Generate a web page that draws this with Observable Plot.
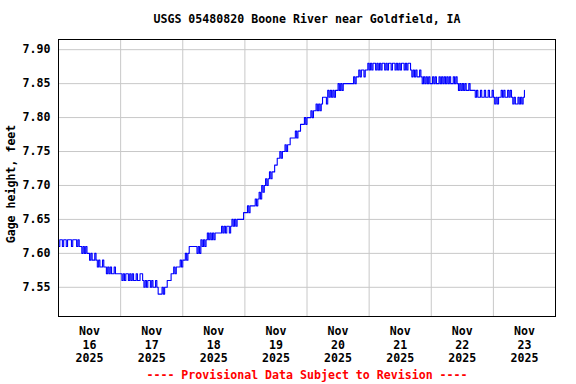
<!DOCTYPE html>
<html><head><meta charset="utf-8">
<script src="https://cdn.jsdelivr.net/npm/d3@7"></script>
<script src="https://cdn.jsdelivr.net/npm/@observablehq/plot@0.6"></script>
<style>
html,body{margin:0;padding:0;background:#fff;}
</style></head><body><div id="chart"></div>
<script>
const title = "USGS 05480820 Boone River near Goldfield, IA";
const yLabel = "Gage height, feet";
const caption = "---- Provisional Data Subject to Revision ----";
const yTicks = [7.55, 7.60, 7.65, 7.70, 7.75, 7.80, 7.85, 7.90];
const dayLabels = ["Nov\n16\n2025", "Nov\n17\n2025", "Nov\n18\n2025", "Nov\n19\n2025",
                   "Nov\n20\n2025", "Nov\n21\n2025", "Nov\n22\n2025", "Nov\n23\n2025"];

// Gage height (feet), half-hourly readings, one array per day starting at 00:00
const nov16 = [7.61,7.62,7.62,7.61,7.62,7.62,7.61,7.62,7.62,7.62,7.61,7.62,7.62,7.62,7.61,7.62,7.61,7.61,
  7.60,7.61,7.60,7.61,7.60,
  7.60,7.59,7.60,7.59,7.59,7.60,7.59,
  7.58,7.59,7.58,7.58,7.59,7.58,7.58,
  7.57,7.58,7.57,7.58,7.57,7.57,7.58,7.57,7.57,7.57,7.57];
const nov17 = [7.57,7.56,7.57,7.56,7.57,7.57,7.56,7.57,7.56,7.57,7.56,7.56,7.57,7.56,7.56,7.57,7.57,
  7.56,7.55,7.56,7.55,7.56,7.56,7.55,7.56,7.55,7.55,7.56,7.55,
  7.54,7.54,7.54,7.55,
  7.54,7.55,7.55,7.56,7.56,7.56,7.57,7.57,7.58,7.57,7.58,7.58,7.58,7.59,7.58];
const nov18 = [7.59,7.59,
  7.60,7.59,7.60,
  7.61,7.61,7.61,7.61,7.61,7.61,7.60,7.61,7.60,
  7.62,7.61,7.62,7.61,
  7.62,7.63,7.62,7.63,7.62,7.63,7.62,7.63,7.63,7.63,7.63,7.63,
  7.64,7.63,7.64,7.63,7.64,7.64,7.63,7.64,
  7.65,7.64,7.65,7.64,7.65,7.65,7.65,7.65,7.65,7.66];
const nov19 = [7.66,7.66,7.67,7.66,
  7.67,7.67,7.67,7.67,
  7.68,7.67,7.68,
  7.69,7.68,
  7.70,7.69,7.70,
  7.71,7.70,7.71,
  7.72,7.71,7.72,
  7.72,7.73,
  7.73,7.74,7.74,
  7.75,7.74,7.75,
  7.75,7.76,7.75,7.76,
  7.76,7.77,7.77,
  7.77,7.77,
  7.78,7.77,7.78,7.78,7.79,7.79,7.79,7.80,7.79];
const nov20 = [7.80,7.80,7.80,
  7.81,7.80,7.81,
  7.81,7.82,7.81,
  7.82,
  7.81,7.82,
  7.83,
  7.83,7.83,7.82,
  7.84,7.83,7.84,7.83,7.84,
  7.83,7.84,7.84,
  7.85,7.84,7.85,7.84,7.85,7.85,7.85,7.85,7.85,7.85,7.85,7.85,
  7.86,7.85,7.86,7.86,
  7.87,7.86,7.87,7.87,7.86,7.87,7.87,7.88];
const nov21 = [7.87,7.88,7.87,7.88,7.88,7.87,7.88,7.87,7.88,7.87,7.88,7.88,7.87,7.88,7.87,7.88,
  7.88,7.87,7.88,7.88,7.87,7.88,7.87,7.88,7.87,7.88,7.88,7.87,7.88,7.87,7.88,7.88,
  7.87,7.86,7.87,7.86,7.87,7.86,7.86,7.87,7.86,
  7.85,7.86,7.85,7.86,7.85,7.86,7.85];
const nov22 = [7.85,7.86,7.85,7.86,7.85,7.85,7.86,7.85,7.86,7.85,7.86,7.85,7.86,7.85,7.86,7.85,7.85,7.86,7.85,7.86,7.85,
  7.84,7.85,7.84,7.85,7.84,7.85,7.84,7.84,7.85,7.84,7.84,7.84,7.84,
  7.83,7.84,7.83,7.83,7.84,7.83,7.83,7.84,7.83,7.83,7.84,7.83,7.83,7.84];
const nov23 = [7.83,7.82,7.83,7.82,7.83,7.83,7.84,7.83,7.84,7.83,7.83,7.84,7.83,7.84,7.83,7.82,
  7.83,7.82,7.82,7.83,7.82,7.83,7.82,7.83,7.84];

const days = [nov16, nov17, nov18, nov19, nov20, nov21, nov22, nov23];
const data = days.flatMap((vals, i) =>
  vals.map((v, k) => ({date: new Date(Date.UTC(2025, 10, 16 + i, 0, 30 * k)), height: v})));
const midnights = d3.range(1, 8).map(i => new Date(Date.UTC(2025, 10, 16 + i)));
const noons = d3.range(0, 8).map(i => new Date(Date.UTC(2025, 10, 16 + i, 12)));

const FONT = 11.6;
const chart = Plot.plot({
  width: 576,
  height: 384,
  marginTop: 39,
  marginBottom: 68,
  marginLeft: 58,
  marginRight: 21,
  style: {fontFamily: "'DejaVu Sans Mono', monospace", fontSize: FONT + "px", fontWeight: "bold", background: "#fff", color: "#000"},
  x: {type: "utc", domain: [new Date(Date.UTC(2025, 10, 16)), new Date(Date.UTC(2025, 10, 24))], axis: null},
  y: {domain: [7.507, 7.915]},
  marks: [
    Plot.gridY(yTicks, {stroke: "#c8c8c8", strokeOpacity: 1}),
    Plot.gridX(midnights, {stroke: "#c8c8c8", strokeOpacity: 1}),
    Plot.line(data, {x: "date", y: "height", curve: "step-after", stroke: "#0000ff", strokeWidth: 1.1}),
    Plot.frame({stroke: "#000"}),
    Plot.axisY(yTicks, {tickSize: 0, tickPadding: 8, tickFormat: d3.format(".2f"), label: null, fontSize: FONT, fill: "#000"}),
    Plot.text(noons, {x: d => d, text: (d, i) => dayLabels[i], frameAnchor: "bottom", dy: 28, lineAnchor: "middle", lineHeight: 1.15, fontSize: FONT, fill: "#000"}),
    Plot.text([title], {frameAnchor: "top", dy: -20, lineAnchor: "middle", fontSize: FONT, fill: "#000"}),
    Plot.text([caption], {frameAnchor: "bottom", dy: 59, lineAnchor: "middle", fontSize: FONT, fill: "#ff0000"}),
    Plot.text([yLabel], {frameAnchor: "left", dx: -47, dy: 6, rotate: -90, textAnchor: "middle", lineAnchor: "middle", fontSize: FONT, fill: "#000"})
  ]
});
document.getElementById("chart").append(chart);
</script>
</body></html>
